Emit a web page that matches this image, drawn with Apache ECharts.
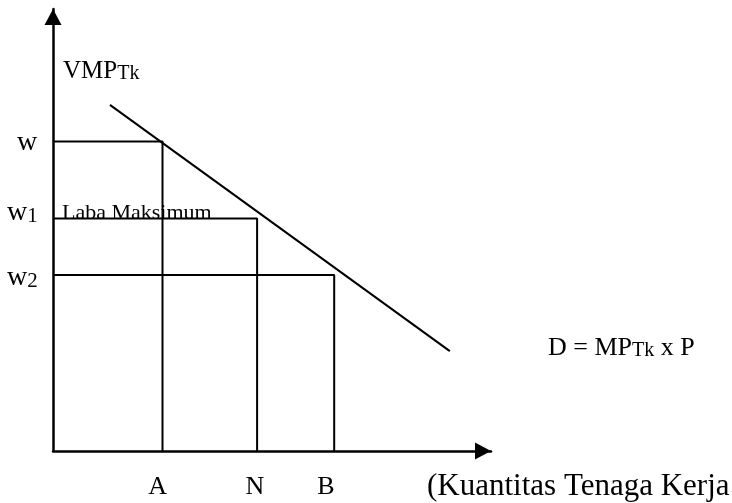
<!DOCTYPE html>
<html>
<head>
<meta charset="utf-8">
<script src="https://cdn.jsdelivr.net/npm/echarts@6/dist/echarts.min.js"></script>
<style>
html, body { margin: 0; padding: 0; background: #fff; }
#chart { width: 732px; height: 503px; }
</style>
</head>
<body>
<div id="chart"></div>
<script>
// titik pada sumbu X (skala 0-100)
const xNames = ['A', 'N', 'B']
const xMarks = [25.0, 46.6, 64.2]
const xLabelPos = [23.9, 46.1, 62.3]

// tingkat upah pada sumbu Y (skala 0-100)
const yNames = ['w', 'w1', 'w2']
const yMarks = [70.0, 52.6, 39.8]
const yLabelPos = [69.8, 53.9, 39.2]

// garis permintaan VMP
const demandX = [13.0, 90.6]
const demandY = [78.3, 22.6]

const FONT = 'Liberation Serif'

const chart = echarts.init(document.getElementById('chart'))

const findIdx = (arr, v) => arr.findIndex(p => Math.abs(p - v) < 1e-6)

// garis siku dari sumbu Y ke titik lalu turun ke sumbu X
const boxSeries = xMarks.map((x, i) => ({
  type: 'line',
  symbol: 'none',
  lineStyle: { color: '#000', width: 2 },
  data: [[0, yMarks[i]], [x, yMarks[i]], [x, 0]]
}))

// panah segitiga, ujungnya tepat di akhir sumbu
const axisLine = {
  show: true,
  lineStyle: { color: '#000', width: 2.5 },
  symbol: ['none', 'triangle'],
  symbolSize: [17, 16],
  symbolOffset: [0, -8]
}

const option = {
  animation: false,
  backgroundColor: '#fff',
  grid: { left: 53, right: 241, top: 9, bottom: 52, outerBoundsMode: 'none' },
  xAxis: {
    type: 'value',
    min: 0,
    max: 100,
    splitLine: { show: false },
    axisTick: { show: false },
    axisLine: axisLine,
    axisLabel: {
      customValues: xLabelPos,
      margin: 23,
      color: '#000',
      fontFamily: FONT,
      fontSize: 26,
      formatter: v => {
        const i = findIdx(xLabelPos, v)
        return i >= 0 ? xNames[i] : ''
      }
    }
  },
  yAxis: {
    type: 'value',
    min: 0,
    max: 100,
    splitLine: { show: false },
    axisTick: { show: false },
    axisLine: axisLine,
    axisLabel: {
      customValues: yLabelPos,
      margin: 46,
      align: 'left',
      color: '#000',
      fontFamily: FONT,
      formatter: v => {
        const i = findIdx(yLabelPos, v)
        if (i < 0) return ''
        const name = yNames[i]
        if (name.length === 1) return '{p|' + name + '}'
        return '{m|' + name[0] + '}{s|' + name.slice(1) + '}'
      },
      rich: {
        p: { fontSize: 28, fontFamily: FONT, color: '#000', verticalAlign: 'bottom', padding: [0, 0, 0, 10] },
        m: { fontSize: 28, fontFamily: FONT, color: '#000', verticalAlign: 'bottom' },
        s: { fontSize: 21, fontFamily: FONT, color: '#000', verticalAlign: 'bottom' }
      }
    }
  },
  series: [
    ...boxSeries,
    {
      type: 'line',
      symbol: 'none',
      lineStyle: { color: '#000', width: 2 },
      data: demandX.map((x, i) => [x, demandY[i]])
    }
  ],
  graphic: [
    {
      type: 'text',
      x: 63,
      y: 71.6,
      style: {
        text: '{m|VMP}{s|Tk}',
        verticalAlign: 'middle',
        rich: {
          m: { fontSize: 25, fontFamily: FONT, fill: '#000', verticalAlign: 'bottom' },
          s: { fontSize: 20, fontFamily: FONT, fill: '#000', verticalAlign: 'bottom' }
        }
      }
    },
    {
      type: 'text',
      x: 62,
      y: 213,
      style: { text: 'Laba Maksimum', fontSize: 22, fontFamily: FONT, fill: '#000', verticalAlign: 'middle' }
    },
    {
      type: 'text',
      x: 548,
      y: 348.2,
      style: {
        text: '{m|D = MP}{s|Tk}{m| x P}',
        verticalAlign: 'middle',
        rich: {
          m: { fontSize: 26, fontFamily: FONT, fill: '#000', verticalAlign: 'bottom' },
          s: { fontSize: 20, fontFamily: FONT, fill: '#000', verticalAlign: 'bottom' }
        }
      }
    },
    {
      type: 'text',
      x: 427,
      y: 487,
      style: { text: '(Kuantitas Tenaga Kerja', fontSize: 31, fontFamily: FONT, fill: '#000', verticalAlign: 'middle' }
    }
  ]
}

chart.setOption(option)
</script>
</body>
</html>
